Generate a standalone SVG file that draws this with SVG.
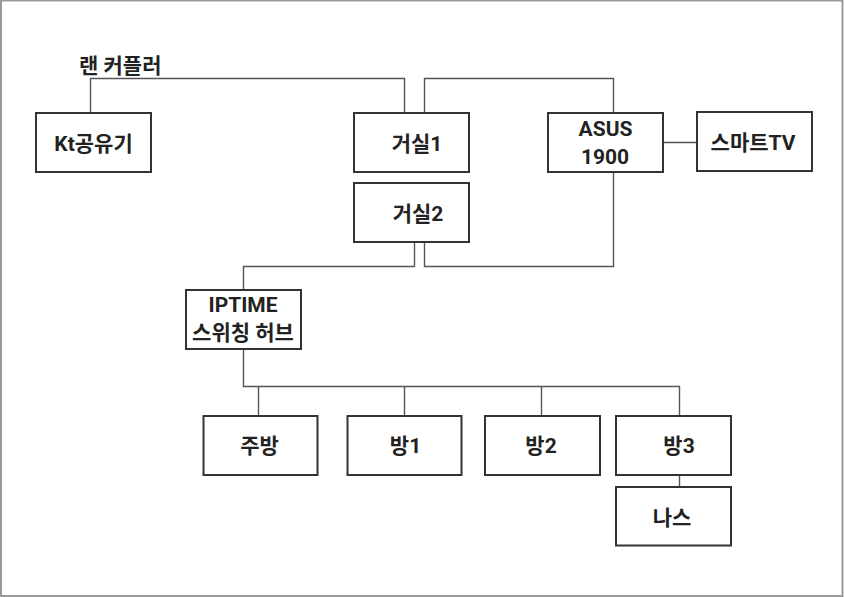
<svg xmlns="http://www.w3.org/2000/svg" width="844" height="597" viewBox="0 0 844 597">
<style>
.box{fill:#fff;stroke:#333;stroke-width:2}
.t{font-family:Roboto,"Noto Sans CJK KR","Noto Sans",sans-serif;font-weight:bold;font-size:21px;fill:#222;text-anchor:middle}
.c{fill:none;stroke:#555;stroke-width:1.4}
</style>
<rect x="0" y="0" width="844" height="597" fill="#fff"/>
<rect x="1" y="0.5" width="841.5" height="595.5" fill="none" stroke="#9a9a9a" stroke-width="2"/>
<g id="connectors">
<polyline class="c" points="90.5,113 90.5,78.5 404.5,78.5 404.5,113"/>
<polyline class="c" points="424.5,113 424.5,78.5 613.5,78.5 613.5,113"/>
<line class="c" x1="663" y1="142.5" x2="697" y2="142.5" stroke="#999"/>
<polyline class="c" points="613.5,173 613.5,266.5 424.5,266.5 424.5,242"/>
<polyline class="c" points="414.5,242 414.5,266.5 243.5,266.5 243.5,290"/>
<polyline class="c" points="243.5,349 243.5,386.5 679.5,386.5 679.5,416"/>
<line class="c" x1="258.5" y1="386.5" x2="258.5" y2="416"/>
<line class="c" x1="404.5" y1="386.5" x2="404.5" y2="416"/>
<line class="c" x1="541.5" y1="386.5" x2="541.5" y2="416"/>
<line class="c" x1="679.5" y1="475" x2="679.5" y2="487"/>
</g>
<text class="t" x="79" y="73" style="text-anchor:start">랜 커플러</text>
<g id="kt"><rect class="box" x="36" y="113" width="115" height="59"/><text class="t" x="93.5" y="151">Kt공유기</text></g>
<g id="living1"><rect class="box" x="354" y="113" width="115" height="59"/><text class="t" x="417" y="151">거실1</text></g>
<g id="living2"><rect class="box" x="354" y="183" width="115" height="59"/><text class="t" x="418" y="221">거실2</text></g>
<g id="asus"><rect class="box" x="548" y="113" width="115" height="59"/><text class="t" x="605.5" y="136">ASUS</text><text class="t" x="605" y="164">1900</text></g>
<g id="tv"><rect class="box" x="697" y="112" width="115" height="59"/><text class="t" x="753" y="150">스마트TV</text></g>
<g id="iptime"><rect class="box" x="186" y="290" width="115" height="59"/><text class="t" x="243" y="312">IPTIME</text><text class="t" x="243" y="340">스위칭 허브</text></g>
<g id="kitchen"><rect class="box" x="203.5" y="416" width="114" height="59"/><text class="t" x="259.5" y="453">주방</text></g>
<g id="room1"><rect class="box" x="347.5" y="416" width="114" height="59"/><text class="t" x="405.5" y="453">방1</text></g>
<g id="room2"><rect class="box" x="485" y="416" width="115" height="59"/><text class="t" x="541" y="453">방2</text></g>
<g id="room3"><rect class="box" x="616" y="416" width="115" height="59"/><text class="t" x="679" y="453">방3</text></g>
<g id="nas"><rect class="box" x="616" y="487" width="115" height="58.5"/><text class="t" x="672" y="525">나스</text></g>
</svg>
